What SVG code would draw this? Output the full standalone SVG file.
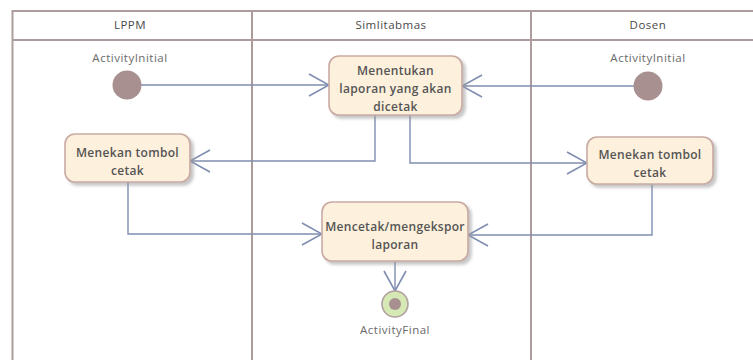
<svg xmlns="http://www.w3.org/2000/svg" width="753" height="360" viewBox="0 0 753 360">
<style>
.lane{fill:none;stroke:#ad9c9c;stroke-width:2}
.hdr{font-family:"Open Sans","Noto Sans",sans-serif;font-size:11.5px;letter-spacing:0.5px;fill:#4a4a4a;text-anchor:middle}
.lbl{font-family:"Open Sans","Noto Sans",sans-serif;font-size:11.5px;letter-spacing:0.5px;fill:#6a6a6a;text-anchor:middle}
.box{fill:#fdf0dc;stroke:#c9aaa2;stroke-width:1.6;filter:url(#sh)}
.bt{font-family:"Open Sans","Noto Sans",sans-serif;font-size:12px;letter-spacing:0.3px;font-weight:600;fill:#555;text-anchor:middle}
.con{fill:none;stroke:#7f8db0;stroke-width:1.4}
.ini{fill:#a89090}
</style>
<defs>
<filter id="sh" x="-10%" y="-10%" width="130%" height="140%">
<feDropShadow dx="3" dy="3" stdDeviation="1.5" flood-color="#999" flood-opacity="0.55"/>
</filter>
<marker id="ah" viewBox="0 0 22 26" refX="21" refY="13" markerWidth="22" markerHeight="26" markerUnits="userSpaceOnUse" orient="auto">
<path d="M1,2 L21,13 L1,24" fill="none" stroke="#7f8db0" stroke-width="1.6"/>
</marker>
</defs>
<g id="lanes">
<path class="lane" d="M12.5,370 V11 H760 M12.5,40 H760 M252,11 V370 M531,11 V370"/>
<text class="hdr" x="130" y="29">LPPM</text>
<text class="hdr" x="391" y="29">Simlitabmas</text>
<text class="hdr" x="648" y="29">Dosen</text>
</g>
<g id="connectors">
<path class="con" marker-end="url(#ah)" d="M141,85 H329"/>
<path class="con" marker-end="url(#ah)" d="M634,86 H462"/>
<path class="con" marker-end="url(#ah)" d="M375,115 V161 H190"/>
<path class="con" marker-end="url(#ah)" d="M410,115 V163 H587"/>
<path class="con" marker-end="url(#ah)" d="M128,182 V234 H322"/>
<path class="con" marker-end="url(#ah)" d="M652,184 V235 H468"/>
<path class="con" marker-end="url(#ah)" d="M395,261 V291"/>
</g>
<g id="initLPPM">
<text class="lbl" x="130" y="62">ActivityInitial</text>
<circle class="ini" cx="127" cy="85" r="14.5"/>
</g>
<g id="initDosen">
<text class="lbl" x="648" y="62">ActivityInitial</text>
<circle class="ini" cx="648" cy="86" r="14.5"/>
</g>
<g id="menentukan">
<rect class="box" x="329" y="56" width="133" height="59" rx="10"/>
<text class="bt" x="395.5" y="75">Menentukan</text>
<text class="bt" x="395.5" y="93">laporan yang akan</text>
<text class="bt" x="395.5" y="111">dicetak</text>
</g>
<g id="tombolLPPM">
<rect class="box" x="65" y="134" width="125" height="48" rx="10"/>
<text class="bt" x="127.5" y="157">Menekan tombol</text>
<text class="bt" x="127.5" y="175">cetak</text>
</g>
<g id="tombolDosen">
<rect class="box" x="587" y="137" width="126" height="47" rx="10"/>
<text class="bt" x="650" y="159">Menekan tombol</text>
<text class="bt" x="650" y="177">cetak</text>
</g>
<g id="mencetak">
<rect class="box" x="322" y="202" width="146" height="59" rx="10"/>
<text class="bt" x="395" y="231">Mencetak/mengekspor</text>
<text class="bt" x="395" y="249">laporan</text>
</g>
<g id="final">
<circle cx="395" cy="304" r="13" fill="#d6e8b4" stroke="#b3a0a0" stroke-width="1.6"/>
<circle cx="395" cy="304" r="6" fill="#a89090"/>
<text class="lbl" x="395" y="334">ActivityFinal</text>
</g>
</svg>
